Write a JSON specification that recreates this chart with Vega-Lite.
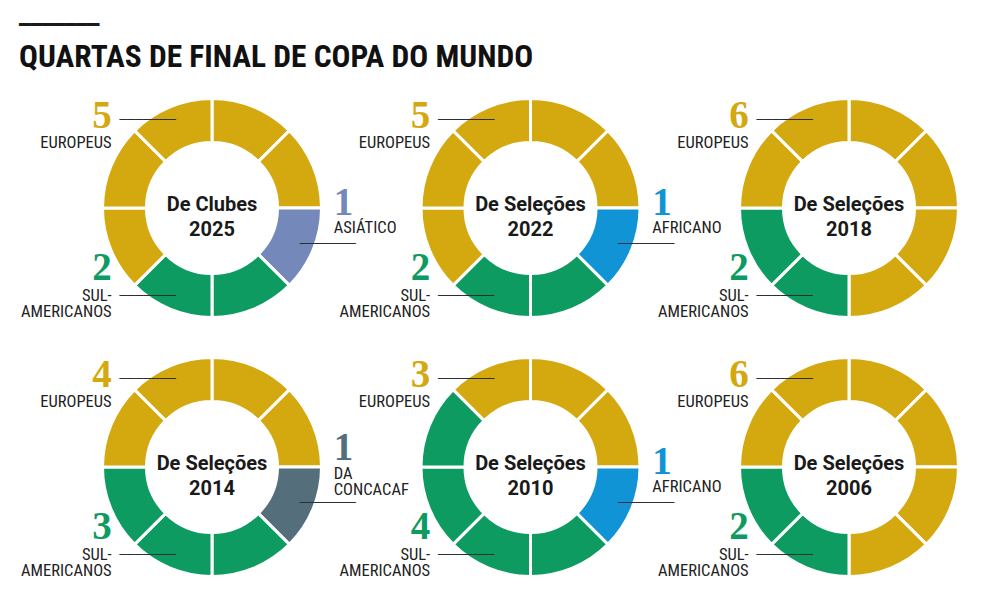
{
  "$schema": "https://vega.github.io/schema/vega-lite/v6.json",
  "background": "white",
  "bounds": "flush",
  "padding": {"left": 19, "top": 16, "right": 5, "bottom": 5},
  "title": {
    "text": "━━━━━━━",
    "subtitle": "QUARTAS DE FINAL DE COPA DO MUNDO",
    "anchor": "start",
    "dx": -2,
    "font": "DejaVu Sans",
    "fontSize": 19,
    "fontWeight": "normal",
    "color": "#1a1a1a",
    "subtitleFont": "Liberation Sans Narrow, Roboto Condensed, DejaVu Sans Condensed, Roboto, sans-serif",
    "subtitleFontSize": 31.4,
    "subtitleFontWeight": "bold",
    "subtitleColor": "#111111",
    "subtitlePadding": 7,
    "offset": 19
  },
  "data": {
    "values": [
      {"ano": 2025, "tipo": "De Clubes", "pos": 0, "regiao": "EUROPEUS"},
      {"ano": 2025, "tipo": "De Clubes", "pos": 1, "regiao": "EUROPEUS"},
      {"ano": 2025, "tipo": "De Clubes", "pos": 2, "regiao": "ASIÁTICO", "rotulo": true},
      {"ano": 2025, "tipo": "De Clubes", "pos": 3, "regiao": "SUL-\nAMERICANOS"},
      {"ano": 2025, "tipo": "De Clubes", "pos": 4, "regiao": "SUL-\nAMERICANOS", "rotulo": true},
      {"ano": 2025, "tipo": "De Clubes", "pos": 5, "regiao": "EUROPEUS"},
      {"ano": 2025, "tipo": "De Clubes", "pos": 6, "regiao": "EUROPEUS"},
      {"ano": 2025, "tipo": "De Clubes", "pos": 7, "regiao": "EUROPEUS", "rotulo": true},
      {"ano": 2022, "tipo": "De Seleções", "pos": 0, "regiao": "EUROPEUS"},
      {"ano": 2022, "tipo": "De Seleções", "pos": 1, "regiao": "EUROPEUS"},
      {"ano": 2022, "tipo": "De Seleções", "pos": 2, "regiao": "AFRICANO", "rotulo": true},
      {"ano": 2022, "tipo": "De Seleções", "pos": 3, "regiao": "SUL-\nAMERICANOS"},
      {"ano": 2022, "tipo": "De Seleções", "pos": 4, "regiao": "SUL-\nAMERICANOS", "rotulo": true},
      {"ano": 2022, "tipo": "De Seleções", "pos": 5, "regiao": "EUROPEUS"},
      {"ano": 2022, "tipo": "De Seleções", "pos": 6, "regiao": "EUROPEUS"},
      {"ano": 2022, "tipo": "De Seleções", "pos": 7, "regiao": "EUROPEUS", "rotulo": true},
      {"ano": 2018, "tipo": "De Seleções", "pos": 0, "regiao": "EUROPEUS"},
      {"ano": 2018, "tipo": "De Seleções", "pos": 1, "regiao": "EUROPEUS"},
      {"ano": 2018, "tipo": "De Seleções", "pos": 2, "regiao": "EUROPEUS"},
      {"ano": 2018, "tipo": "De Seleções", "pos": 3, "regiao": "EUROPEUS"},
      {"ano": 2018, "tipo": "De Seleções", "pos": 4, "regiao": "SUL-\nAMERICANOS", "rotulo": true},
      {"ano": 2018, "tipo": "De Seleções", "pos": 5, "regiao": "SUL-\nAMERICANOS"},
      {"ano": 2018, "tipo": "De Seleções", "pos": 6, "regiao": "EUROPEUS"},
      {"ano": 2018, "tipo": "De Seleções", "pos": 7, "regiao": "EUROPEUS", "rotulo": true},
      {"ano": 2014, "tipo": "De Seleções", "pos": 0, "regiao": "EUROPEUS"},
      {"ano": 2014, "tipo": "De Seleções", "pos": 1, "regiao": "EUROPEUS"},
      {"ano": 2014, "tipo": "De Seleções", "pos": 2, "regiao": "DA\nCONCACAF", "rotulo": true},
      {"ano": 2014, "tipo": "De Seleções", "pos": 3, "regiao": "SUL-\nAMERICANOS"},
      {"ano": 2014, "tipo": "De Seleções", "pos": 4, "regiao": "SUL-\nAMERICANOS", "rotulo": true},
      {"ano": 2014, "tipo": "De Seleções", "pos": 5, "regiao": "SUL-\nAMERICANOS"},
      {"ano": 2014, "tipo": "De Seleções", "pos": 6, "regiao": "EUROPEUS"},
      {"ano": 2014, "tipo": "De Seleções", "pos": 7, "regiao": "EUROPEUS", "rotulo": true},
      {"ano": 2010, "tipo": "De Seleções", "pos": 0, "regiao": "EUROPEUS"},
      {"ano": 2010, "tipo": "De Seleções", "pos": 1, "regiao": "EUROPEUS"},
      {"ano": 2010, "tipo": "De Seleções", "pos": 2, "regiao": "AFRICANO", "rotulo": true},
      {"ano": 2010, "tipo": "De Seleções", "pos": 3, "regiao": "SUL-\nAMERICANOS"},
      {"ano": 2010, "tipo": "De Seleções", "pos": 4, "regiao": "SUL-\nAMERICANOS", "rotulo": true},
      {"ano": 2010, "tipo": "De Seleções", "pos": 5, "regiao": "SUL-\nAMERICANOS"},
      {"ano": 2010, "tipo": "De Seleções", "pos": 6, "regiao": "SUL-\nAMERICANOS"},
      {"ano": 2010, "tipo": "De Seleções", "pos": 7, "regiao": "EUROPEUS", "rotulo": true},
      {"ano": 2006, "tipo": "De Seleções", "pos": 0, "regiao": "EUROPEUS"},
      {"ano": 2006, "tipo": "De Seleções", "pos": 1, "regiao": "EUROPEUS"},
      {"ano": 2006, "tipo": "De Seleções", "pos": 2, "regiao": "EUROPEUS"},
      {"ano": 2006, "tipo": "De Seleções", "pos": 3, "regiao": "EUROPEUS"},
      {"ano": 2006, "tipo": "De Seleções", "pos": 4, "regiao": "SUL-\nAMERICANOS", "rotulo": true},
      {"ano": 2006, "tipo": "De Seleções", "pos": 5, "regiao": "SUL-\nAMERICANOS"},
      {"ano": 2006, "tipo": "De Seleções", "pos": 6, "regiao": "EUROPEUS"},
      {"ano": 2006, "tipo": "De Seleções", "pos": 7, "regiao": "EUROPEUS", "rotulo": true}
    ]
  },
  "transform": [
    {"joinaggregate": [{"op": "count", "as": "n"}], "groupby": ["ano", "regiao"]}
  ],
  "facet": {
    "field": "ano",
    "type": "ordinal",
    "sort": "descending",
    "title": null,
    "header": {"labels": false, "labelExpr": "''", "labelFontSize": 0, "labelPadding": 0, "title": null}
  },
  "columns": 3,
  "spacing": {"column": 68.5, "row": 39},
  "spec": {
    "width": 250,
    "height": 220,
    "encoding": {
      "color": {
        "field": "regiao",
        "type": "nominal",
        "scale": {
          "domain": ["EUROPEUS", "SUL-\nAMERICANOS", "ASIÁTICO", "AFRICANO", "DA\nCONCACAF"],
          "range": ["#D4A80F", "#0E9B62", "#7489BA", "#1194D5", "#556E7B"]
        },
        "legend": null
      }
    },
    "layer": [
      {
        "mark": {"type": "arc", "innerRadius": 65.5, "outerRadius": 109.5, "stroke": "white", "strokeWidth": 3},
        "encoding": {
          "theta": {"aggregate": "count", "type": "quantitative", "stack": true},
          "order": {"field": "pos", "type": "quantitative"},
          "detail": {"field": "pos", "type": "quantitative"}
        }
      },
      {
        "transform": [{"filter": "datum.pos == 0"}],
        "mark": {"type": "text", "font": "Roboto", "fontWeight": "bold", "fontSize": 20, "dy": -3},
        "encoding": {"text": {"field": "tipo", "type": "nominal"}, "color": {"value": "#1a1a1a"}}
      },
      {
        "transform": [{"filter": "datum.pos == 0"}],
        "mark": {"type": "text", "font": "Roboto", "fontWeight": "bold", "fontSize": 20, "dy": 22},
        "encoding": {"text": {"field": "ano", "type": "nominal"}, "color": {"value": "#1a1a1a"}}
      },
      {
        "transform": [{"filter": "datum.rotulo && datum.pos != 2"}],
        "mark": {"type": "text", "text": "───────", "font": "DejaVu Sans", "fontSize": 13.3, "align": "right", "baseline": "middle", "radius": 95},
        "encoding": {
          "theta": {"field": "pos", "type": "quantitative", "scale": {"domain": [-0.5, 7.5], "zero": false, "nice": false}},
          "color": {"value": "#2b2f33"}
        }
      },
      {
        "transform": [{"filter": "datum.rotulo && datum.pos == 2"}],
        "mark": {"type": "text", "text": "───────", "font": "DejaVu Sans", "fontSize": 13.3, "align": "left", "baseline": "middle", "radius": 95},
        "encoding": {
          "theta": {"field": "pos", "type": "quantitative", "scale": {"domain": [-0.5, 7.5], "zero": false, "nice": false}},
          "color": {"value": "#2b2f33"}
        }
      },
      {
        "transform": [{"filter": "datum.rotulo && datum.pos == 7"}],
        "mark": {"type": "text", "font": "Liberation Serif", "fontWeight": "bold", "fontSize": 39, "align": "right", "baseline": "alphabetic", "radius": 95, "dx": -64, "dy": 8},
        "encoding": {
          "theta": {"field": "pos", "type": "quantitative", "scale": {"domain": [-0.5, 7.5], "zero": false, "nice": false}},
          "text": {"field": "n", "type": "quantitative"}
        }
      },
      {
        "transform": [{"filter": "datum.rotulo && datum.pos == 7"}],
        "mark": {"type": "text", "font": "Liberation Sans Narrow, Roboto Condensed, DejaVu Sans Condensed, sans-serif", "fontSize": 16.5, "align": "right", "baseline": "alphabetic", "radius": 95, "dx": -64, "dy": 28, "lineBreak": "\n"},
        "encoding": {
          "theta": {"field": "pos", "type": "quantitative", "scale": {"domain": [-0.5, 7.5], "zero": false, "nice": false}},
          "text": {"field": "regiao", "type": "nominal"},
          "color": {"value": "#222222"}
        }
      },
      {
        "transform": [{"filter": "datum.rotulo && datum.pos == 4"}],
        "mark": {"type": "text", "font": "Liberation Serif", "fontWeight": "bold", "fontSize": 39, "align": "right", "baseline": "alphabetic", "radius": 95, "dx": -64, "dy": -16},
        "encoding": {
          "theta": {"field": "pos", "type": "quantitative", "scale": {"domain": [-0.5, 7.5], "zero": false, "nice": false}},
          "text": {"field": "n", "type": "quantitative"}
        }
      },
      {
        "transform": [{"filter": "datum.rotulo && datum.pos == 4"}],
        "mark": {"type": "text", "font": "Liberation Sans Narrow, Roboto Condensed, DejaVu Sans Condensed, sans-serif", "fontSize": 16.5, "align": "right", "baseline": "alphabetic", "radius": 95, "dx": -64, "dy": 5, "lineBreak": "\n", "lineHeight": 16},
        "encoding": {
          "theta": {"field": "pos", "type": "quantitative", "scale": {"domain": [-0.5, 7.5], "zero": false, "nice": false}},
          "text": {"field": "regiao", "type": "nominal"},
          "color": {"value": "#222222"}
        }
      },
      {
        "transform": [{"filter": "datum.rotulo && datum.pos == 2 && indexof(datum.regiao, '\\n') < 0"}],
        "mark": {"type": "text", "font": "Liberation Serif", "fontWeight": "bold", "fontSize": 39, "align": "left", "baseline": "alphabetic", "radius": 95, "dx": 34, "dy": -29},
        "encoding": {
          "theta": {"field": "pos", "type": "quantitative", "scale": {"domain": [-0.5, 7.5], "zero": false, "nice": false}},
          "text": {"field": "n", "type": "quantitative"}
        }
      },
      {
        "transform": [{"filter": "datum.rotulo && datum.pos == 2 && indexof(datum.regiao, '\\n') < 0"}],
        "mark": {"type": "text", "font": "Liberation Sans Narrow, Roboto Condensed, DejaVu Sans Condensed, sans-serif", "fontSize": 16.5, "align": "left", "baseline": "alphabetic", "radius": 95, "dx": 34, "dy": -11},
        "encoding": {
          "theta": {"field": "pos", "type": "quantitative", "scale": {"domain": [-0.5, 7.5], "zero": false, "nice": false}},
          "text": {"field": "regiao", "type": "nominal"},
          "color": {"value": "#222222"}
        }
      },
      {
        "transform": [{"filter": "datum.rotulo && datum.pos == 2 && indexof(datum.regiao, '\\n') >= 0"}],
        "mark": {"type": "text", "font": "Liberation Serif", "fontWeight": "bold", "fontSize": 39, "align": "left", "baseline": "alphabetic", "radius": 95, "dx": 34, "dy": -43},
        "encoding": {
          "theta": {"field": "pos", "type": "quantitative", "scale": {"domain": [-0.5, 7.5], "zero": false, "nice": false}},
          "text": {"field": "n", "type": "quantitative"}
        }
      },
      {
        "transform": [{"filter": "datum.rotulo && datum.pos == 2 && indexof(datum.regiao, '\\n') >= 0"}],
        "mark": {"type": "text", "font": "Liberation Sans Narrow, Roboto Condensed, DejaVu Sans Condensed, sans-serif", "fontSize": 16.5, "align": "left", "baseline": "alphabetic", "radius": 95, "dx": 34, "dy": -24, "lineBreak": "\n", "lineHeight": 16},
        "encoding": {
          "theta": {"field": "pos", "type": "quantitative", "scale": {"domain": [-0.5, 7.5], "zero": false, "nice": false}},
          "text": {"field": "regiao", "type": "nominal"},
          "color": {"value": "#222222"}
        }
      }
    ],
    "resolve": {"scale": {"theta": "independent"}}
  },
  "config": {"view": {"stroke": null}, "header": {"labels": false, "title": null}}
}
